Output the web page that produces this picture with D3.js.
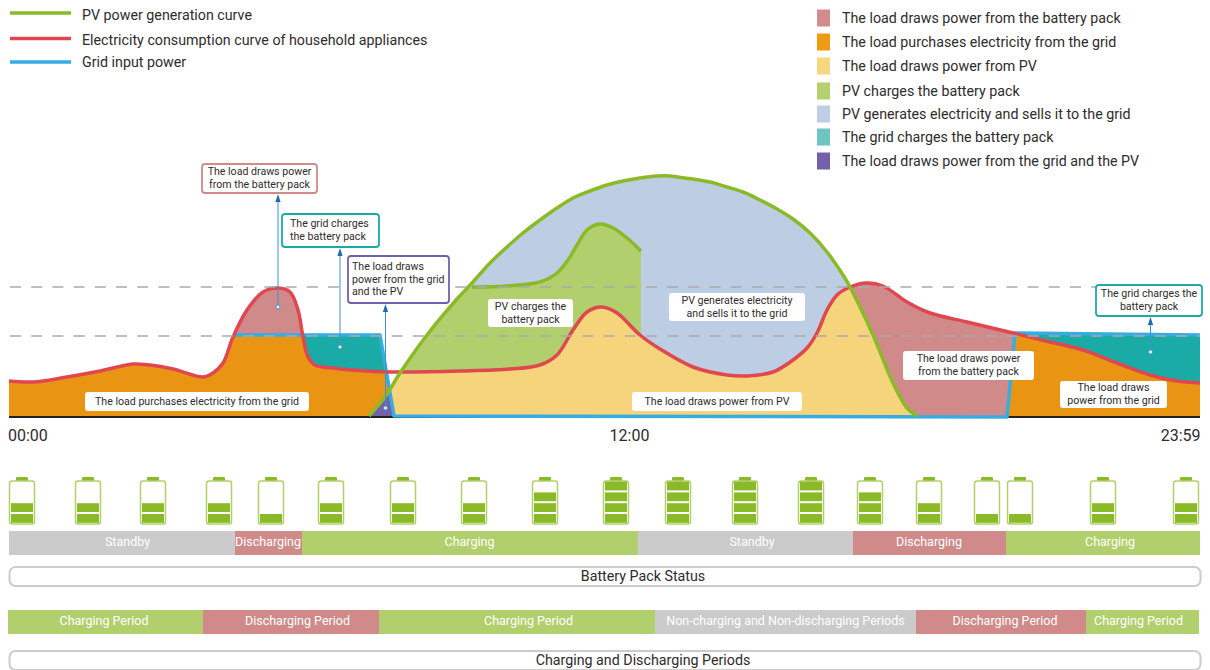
<!DOCTYPE html>
<html>
<head>
<meta charset="utf-8">
<script src="https://cdn.jsdelivr.net/npm/d3@7"></script>
<style>
html,body{margin:0;padding:0;background:#fff;}
svg{display:block;font-family:Roboto,sans-serif;}
</style>
</head>
<body>
<div id="chart"></div>
<script>
// ---------- data: time in day samples, power in arbitrary units (no power axis in the source)
const tickTimes = [0, 620, 1191];
const tickLabels = ["00:00", "12:00", "23:59"];
const limitLevels = [81, 130];

const loadTimes = [0,24,58,91,124,141,164,194,204,214,224,238,254,269,281,289,294,299,306,324,358,391,451,501,531,548,564,578,593,608,631,651,684,718,738,764,784,798,808,818,828,841,858,874,898,921,958,1004,1041,1074,1108,1141,1168,1191];
const loadValues = [36,35,40,46,53,52,48,40,44,54,80,107,125,129,125,107,80,60,52,49,46,45,46,48,52,62,87,105,110,104,82,68,50,42,41,45,57,69,84,107,122,130,134,131,115,104,95,84,75,67,54,42,36,34];

const pvTimes = [360,376,391,418,448,464,481,498,514,531,548,564,581,598,614,631,648,661,668,684,701,718,734,751,768,784,801,818,834,841,864,884,898,908];
const pvValues = [1,20,44,82,118,135,154,170,184,197,209,219,226,232,236,239,241,241,240,238,235,230,225,217,208,198,184,165,142,130,82,34,9,1];

const chargeTimes = [391,418,463,498,531,548,559,568,578,591,604,618,632];
const chargeValues = [44,82,130,131,135,144,157,172,187,193,189,179,166];
const chargeLineStart = 463;

const gridTimes = [224,371,385,998,1006,1191];
const gridValues = [82,82,1,0,84,82];

const legendLines = ["PV power generation curve","Electricity consumption curve of household appliances","Grid input power"];
const legendAreas = ["The load draws power from the battery pack","The load purchases electricity from the grid","The load draws power from PV","PV charges the battery pack","PV generates electricity and sells it to the grid","The grid charges the battery pack","The load draws power from the grid and the PV"];

const batteryTimes = [13,79,144,210,262,322,394,465,536,607,669,736,802,861,920,978,1011,1094,1177];
const batteryLevels = [2,2,2,2,1,2,2,2,3,4,4,4,4,3,2,1,1,2,2];

const statusEdges = [0,226,293,629,844,997,1191];
const statusLabels = ["Standby","Discharging","Charging","Standby","Discharging","Charging"];
const statusLabelTimes = [118.5,259,460.5,743,920,1101];
const periodEdges = [-1,194,370,646,907,1077,1190];
const periodLabels = ["Charging Period","Discharging Period","Charging Period","Non-charging and Non-discharging Periods","Discharging Period","Charging Period"];
const periodLabelTimes = [95,288.5,519.5,776.5,996,1129.5];

const dischargeWindows = [[216,300],[838,1010]];

const calloutTips = [[269,110],[331,70],[376.5,9],[1141.5,65]];

// ---------- styling & layout
const C = {pink:"#CF8A89",orange:"#E99412",yellow:"#F5D47C",green:"#B2CF6D",sky:"#BCCDE4",teal:"#1AABA6",purple:"#7460A9",
  red:"#E0474F",pv:"#8ABA27",blue:"#35ADE2",dash:"#ABABAB",text:"#2F2B2C",gray:"#CACBCA",arrow:"#1A6DAE",arrowLine:"#3F93CC"};
const legendSwatches = ["#D28C8B","#EE9A13","#F6D67F","#B4D06F","#BDCEE5","#6EC5C1","#7460A9"];
const legendLineColors = [C.pv,C.red,C.blue];
const legendLineY = [13,38.5,62];
const legendTextY = [14.5,39.5,62];
const legendAreaY = [18,42,66,91,114,137,161];
const statusColors = [C.gray,C.pink,C.green,C.gray,C.pink,C.green];
const periodColors = [C.green,C.pink,C.green,C.gray,C.pink,C.green];

const W = 1210, H = 670;
const x = d3.scaleLinear().domain([0,1191]).range([9,1200]);
const y = d3.scaleLinear().domain([0,240]).range([417,177]);

const zip = (a,b) => a.map((t,i)=>[t,b[i]]);
const load = zip(loadTimes,loadValues), pv = zip(pvTimes,pvValues),
      charge = zip(chargeTimes,chargeValues), grid = zip(gridTimes,gridValues);

const svg = d3.select("#chart").append("svg").attr("width",W).attr("height",H);
const defs = svg.append("defs");

const smooth = d3.curveCatmullRom.alpha(0.5);
const smoothArea = d3.area().x(d=>x(d[0])).y0(y(0)).y1(d=>y(d[1])).curve(smooth);
const straightArea = d3.area().x(d=>x(d[0])).y0(y(0)).y1(d=>y(d[1])).curve(d3.curveLinear);
const smoothLine = d3.line().x(d=>x(d[0])).y(d=>y(d[1])).curve(smooth);
const straightLine = d3.line().x(d=>x(d[0])).y(d=>y(d[1])).curve(d3.curveLinear);

function clip(id, d){ defs.append("clipPath").attr("id",id).append("path").attr("d",d); }
clip("underPV", smoothArea(pv));
clip("underLoad", smoothArea(load));
clip("underGrid", straightArea([[x.domain()[0],gridValues[0]],...grid]));

const areas = svg.append("g");
function paint(d, fill, clips){
  let parent = areas;
  (clips||[]).forEach(c => { parent = parent.append("g").attr("clip-path",`url(#${c})`); });
  parent.append("path").attr("d",d).attr("fill",fill);
}
paint(smoothArea(pv), C.sky);
paint(smoothArea(charge), C.green, ["underPV"]);
paint(straightArea(grid), C.teal);
dischargeWindows.forEach(w=>{
  const pts = [[w[0],0],[w[0],240],[w[1],240],[w[1],0]];
  paint(straightArea(pts), C.pink, ["underLoad"]);
});
paint(smoothArea(load), C.orange, ["underLoad","underGrid"]);
paint(smoothArea(load), C.yellow, ["underPV"]);
paint(smoothArea(pv), C.purple, ["underGrid"]);

// baseline
svg.append("line").attr("x1",x(0)).attr("x2",x(1191)).attr("y1",y(0)).attr("y2",y(0)).attr("stroke","#222").attr("stroke-width",2);

// curves
const lines = svg.append("g").attr("fill","none").attr("stroke-linejoin","round");
lines.append("path").attr("d",straightLine(grid)).attr("stroke",C.blue).attr("stroke-width",3.5);
lines.append("path").attr("d",smoothLine(load)).attr("stroke",C.red).attr("stroke-width",3.5);
lines.append("path").attr("d",smoothLine(charge.filter(d=>d[0]>=chargeLineStart))).attr("stroke",C.pv).attr("stroke-width",3.5);
lines.append("path").attr("d",smoothLine(pv)).attr("stroke",C.pv).attr("stroke-width",3.5);

// dashed limits
svg.append("g").selectAll("line").data(limitLevels).join("line")
  .attr("x1",x(1)).attr("x2",x(1191)).attr("y1",d=>y(d)).attr("y2",d=>y(d))
  .attr("stroke",C.dash).attr("stroke-width",1.5).attr("stroke-dasharray","11 10.2");

// axis
const axis = d3.axisBottom(x).tickValues(tickTimes).tickFormat((d,i)=>tickLabels[i]).tickSize(0).tickPadding(0);
const axG = svg.append("g").attr("transform","translate(0,441)").call(axis);
axG.select(".domain").remove();
axG.selectAll("text").attr("font-family","Roboto,sans-serif").attr("font-size",16).attr("fill",C.text)
  .attr("dy",0).attr("text-anchor",(d,i)=>["start","middle","end"][i])
  .attr("x",(d,i)=>[-1.5,0,0][i]);

// helper for text
function label(g, str, px, py, size, anchor, fill){
  return g.append("text").attr("x",px).attr("y",py).attr("font-size",size).attr("text-anchor",anchor||"middle")
    .attr("dominant-baseline","central").attr("fill",fill||C.text).text(str);
}

// plain white labels
const plainBoxes = [
 {x:85,y:392,w:224,h:19,lines:["The load purchases electricity from the grid"]},
 {x:488,y:299,w:85,h:28,lines:["PV charges the","battery pack"]},
 {x:669,y:293,w:136,h:28,lines:["PV generates electricity","and sells it to the grid"]},
 {x:632,y:392,w:170,h:19,lines:["The load draws power from PV"]},
 {x:903,y:351,w:131,h:29,lines:["The load draws power","from the battery pack"]},
 {x:1060,y:381,w:107,h:27,lines:["The load draws","power from the grid"]}
];
const lab = svg.append("g");
plainBoxes.forEach(b=>{
  lab.append("rect").attr("x",b.x).attr("y",b.y).attr("width",b.w).attr("height",b.h).attr("rx",3).attr("fill","#fff");
  const cy = b.y+b.h/2, n=b.lines.length;
  b.lines.forEach((t,i)=>label(lab,t,b.x+b.w/2,cy+(i-(n-1)/2)*12.6-0.3,10.6));
});

// callouts
const callouts = [
 {x:202,y:164,w:115,h:29,stroke:C.pink,lines:["The load draws power","from the battery pack"]},
 {x:282,y:214,w:97,h:33,stroke:C.teal,lines:["The grid charges","the battery pack"],tx:290},
 {x:348,y:256,w:101,h:47,stroke:C.purple,lines:["The load draws","power from the grid","and the PV"],tx:352},
 {x:1096,y:285,w:106,h:31,stroke:"#22A9A5",lines:["The grid charges the","battery pack"]}
];
const co = svg.append("g");
callouts.forEach((b,k)=>{
  const [tx,tv] = calloutTips[k];
  const ax = x(tx), ay = y(tv), top = b.y+b.h+1;
  co.append("line").attr("x1",ax).attr("x2",ax).attr("y1",ay).attr("y2",top+6).attr("stroke",C.arrowLine).attr("stroke-width",1);
  co.append("path").attr("d",`M${ax},${top}L${ax+2.6},${top+8}L${ax-2.6},${top+8}Z`).attr("fill",C.arrow);
  co.append("circle").attr("cx",ax).attr("cy",ay).attr("r",2).attr("fill","#fff").attr("stroke",C.arrowLine).attr("stroke-width",1);
  co.append("rect").attr("x",b.x).attr("y",b.y).attr("width",b.w).attr("height",b.h).attr("rx",3)
    .attr("fill","#fff").attr("stroke",b.stroke).attr("stroke-width",1.8);
  const cy = b.y+b.h/2, n=b.lines.length;
  b.lines.forEach((t,i)=>label(co,t,b.tx||b.x+b.w/2,cy+(i-(n-1)/2)*12.8-0.5,10.6,b.tx?"start":"middle"));
});

// legends
const lg = svg.append("g");
legendLines.forEach((t,i)=>{
  lg.append("line").attr("x1",10).attr("x2",71).attr("y1",legendLineY[i]).attr("y2",legendLineY[i]).attr("stroke",legendLineColors[i]).attr("stroke-width",3.5);
  label(lg,t,82,legendTextY[i],14.25,"start");
});
legendAreas.forEach((t,i)=>{
  lg.append("rect").attr("x",817).attr("y",legendAreaY[i]-8.5).attr("width",13).attr("height",17).attr("fill",legendSwatches[i]);
  label(lg,t,842,legendAreaY[i],14.25,"start");
});

// batteries
const bat = svg.append("g").selectAll("g").data(batteryTimes).join("g").attr("transform",d=>`translate(${x(d)},0)`);
bat.append("rect").attr("x",-6).attr("y",477).attr("width",12).attr("height",4).attr("rx",1.2).attr("fill",C.pv);
bat.append("rect").attr("x",-12.5).attr("y",481).attr("width",25).attr("height",43).attr("rx",2.5).attr("fill","#fff").attr("stroke",C.green).attr("stroke-width",1.5);
bat.each(function(d,i){
  const g = d3.select(this);
  d3.range(batteryLevels[i]).forEach(k=>{
    g.append("rect").attr("x",-11).attr("y",514-k*10.8).attr("width",22).attr("height",8.8).attr("fill",C.pv);
  });
});

// segmented bars
function bar(edges, labels, labelTimes, colors, y0, h){
  const g = svg.append("g");
  labels.forEach((t,i)=>{
    const a=x(edges[i]), b=x(edges[i+1]);
    g.append("rect").attr("x",a).attr("y",y0).attr("width",b-a).attr("height",h).attr("fill",colors[i]);
    label(g,t,x(labelTimes[i]),y0+h/2-1.5,12.5,"middle","#fff");
  });
}
bar(statusEdges,statusLabels,statusLabelTimes,statusColors,531,24);
bar(periodEdges,periodLabels,periodLabelTimes,periodColors,610,24);

// title boxes
function titleBox(t, y0, h){
  const g = svg.append("g");
  g.append("rect").attr("x",9.5).attr("y",y0).attr("width",1191).attr("height",h).attr("rx",6).attr("fill","#fff").attr("stroke","#CCCCCC").attr("stroke-width",2);
  label(g,t,643,y0+8.5,14.25,"middle");
}
titleBox("Battery Pack Status",567,19);
titleBox("Charging and Discharging Periods",651,19);
</script>
</body>
</html>
